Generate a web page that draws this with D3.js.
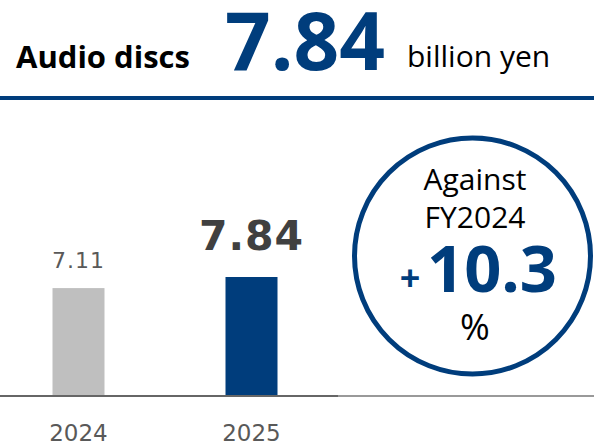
<!DOCTYPE html>
<html>
<head>
<meta charset="utf-8">
<script src="https://cdn.jsdelivr.net/npm/d3@7"></script>
<style>
  html, body { margin: 0; padding: 0; background: #fff; }
  svg { display: block; }
</style>
</head>
<body>
<svg id="chart" width="594" height="446"></svg>
<script>
// Segment and headline figures
const category = "Audio discs";
const unit = "billion yen";
const years = ["2024", "2025"];
const values = [7.11, 7.84];
const valueLabels = ["7.11", "7.84"];
const comparisonLines = ["Against", "FY2024"];
const growthPct = [10.3];

const navy = "#003d7c";
const sans = "'Open Sans', 'Noto Sans', sans-serif";
const labelFont = "'DejaVu Sans', Verdana, sans-serif";

const svg = d3.select("#chart");
const W = 594;

// ---- header ----
const header = svg.append("g");
header.append("text")
  .attr("x", 16).attr("y", 68)
  .attr("font-family", sans).attr("font-weight", 700).attr("font-size", 31)
  .attr("fill", "#000")
  .text(category);
header.append("text")
  .attr("x", 225).attr("y", 70)
  .attr("font-family", sans).attr("font-weight", 700).attr("font-size", 80)
  .attr("fill", navy)
  .text(d3.format(".2f")(values[values.length - 1]));
header.append("text")
  .attr("x", 407).attr("y", 67)
  .attr("font-family", sans).attr("font-size", 30)
  .attr("fill", "#000")
  .text(unit);
header.append("rect")
  .attr("x", 0).attr("y", 96).attr("width", W).attr("height", 4)
  .attr("fill", navy);

// ---- bars ----
const x = d3.scalePoint().domain(years).range([78.5, 251.5]);
const y = d3.scaleLinear().domain([0, values[1]]).range([396, 277]);
const barW = 52;
const color = d3.scaleOrdinal().domain(years).range(["#bfbfbf", navy]);

const rows = years.map((yr, i) => ({ yr, v: values[i], label: valueLabels[i], last: i === years.length - 1 }));

svg.append("g").selectAll("rect")
  .data(rows).join("rect")
  .attr("x", d => x(d.yr) - barW / 2)
  .attr("y", d => y(d.v))
  .attr("width", barW)
  .attr("height", d => y(0) - y(d.v))
  .attr("fill", d => color(d.yr));

// baseline
svg.append("line")
  .attr("x1", 0).attr("x2", 338).attr("y1", y(0)).attr("y2", y(0))
  .attr("stroke", "#666").attr("stroke-width", 2);
svg.append("line")
  .attr("x1", 338).attr("x2", W).attr("y1", y(0)).attr("y2", y(0))
  .attr("stroke", "#777").attr("stroke-width", 1.3);

// value labels
svg.append("g").selectAll("text")
  .data(rows).join("text")
  .attr("x", d => x(d.yr))
  .attr("y", d => d.last ? y(d.v) - 27 : y(d.v) - 20)
  .attr("text-anchor", "middle")
  .attr("font-family", labelFont)
  .attr("font-weight", d => d.last ? 700 : 400)
  .attr("font-size", d => d.last ? 41 : 22)
  .attr("letter-spacing", 1)
  .attr("fill", d => d.last ? "#404040" : "#595959")
  .text(d => d.label);

// year axis labels
svg.append("g").selectAll("text")
  .data(rows).join("text")
  .attr("x", d => x(d.yr))
  .attr("y", 441)
  .attr("text-anchor", "middle")
  .attr("font-family", labelFont)
  .attr("font-size", 23)
  .attr("fill", "#595959")
  .text(d => d.yr);

// ---- growth badge ----
const cx = 472.5, cy = 256, r = 118;
const badge = svg.append("g");
badge.append("circle")
  .attr("cx", cx).attr("cy", cy).attr("r", r)
  .attr("fill", "#fff").attr("stroke", navy).attr("stroke-width", 5);
badge.selectAll("text.cmp")
  .data(comparisonLines).join("text")
  .attr("class", "cmp")
  .attr("x", 475).attr("y", (d, i) => 190 + i * 38)
  .attr("text-anchor", "middle")
  .attr("font-family", sans).attr("font-size", 30)
  .attr("fill", "#000")
  .text(d => d);
badge.append("text")
  .attr("x", 410).attr("y", 291)
  .attr("text-anchor", "middle")
  .attr("font-family", sans).attr("font-weight", 700).attr("font-size", 36)
  .attr("fill", navy)
  .text("+");
badge.append("text")
  .attr("x", 427).attr("y", 292)
  .attr("font-family", sans).attr("font-weight", 700).attr("font-size", 65)
  .attr("fill", navy)
  .text(d3.format(".1f")(growthPct[0]));
badge.append("text")
  .attr("x", 475).attr("y", 340)
  .attr("text-anchor", "middle")
  .attr("font-family", sans).attr("font-size", 36)
  .attr("fill", "#000")
  .text("%");
</script>
</body>
</html>
